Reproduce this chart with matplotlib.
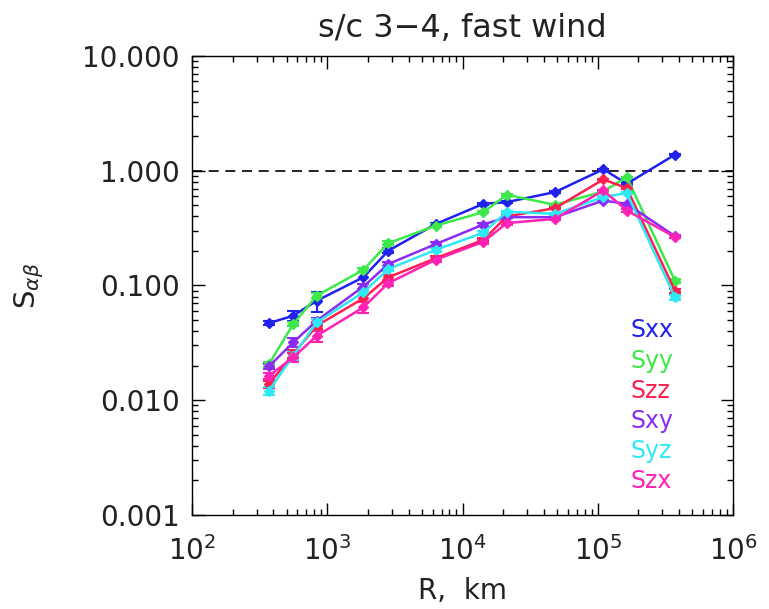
import numpy as np
import matplotlib.pyplot as plt
from matplotlib.ticker import LogLocator, FormatStrFormatter

# separation distances, km
R = [370, 560, 835, 1850, 2830, 6370, 14250, 21250, 48300, 110000, 164000, 372000]

names = ['Sxx', 'Syy', 'Szz', 'Sxy', 'Syz', 'Szx']
colors = ['#2121ee', '#3ce84a', '#ff1f4f', '#8a2cf5', '#2ee9f2', '#ff22b4']

Sxx = [0.047, 0.0545, 0.0736, 0.118, 0.201, 0.344, 0.515, 0.533, 0.652, 1.03, 0.77, 1.38]
Syy = [0.0206, 0.046, 0.0815, 0.137, 0.234, 0.333, 0.436, 0.617, 0.505, 0.66, 0.88, 0.110]
Szz = [0.0138, 0.0252, 0.0446, 0.0773, 0.118, 0.173, 0.25, 0.40, 0.472, 0.84, 0.706, 0.090]
Sxy = [0.0197, 0.0319, 0.0493, 0.098, 0.154, 0.23, 0.34, 0.394, 0.394, 0.55, 0.515, 0.269]
Syz = [0.0121, 0.0244, 0.0477, 0.0872, 0.139, 0.205, 0.288, 0.44, 0.421, 0.59, 0.64, 0.0788]
Szx = [0.0163, 0.0236, 0.0364, 0.0645, 0.105, 0.168, 0.24, 0.35, 0.381, 0.673, 0.45, 0.265]

# error bars (half width)
Exx = [0.002, 0.005, 0.015, 0.025, 0.01, 0.01, 0.01, 0.01, 0.01, 0.01, 0.01, 0.01]
Eyy = [0.001, 0.002, 0.004, 0.006, 0.008, 0.01, 0.01, 0.01, 0.01, 0.01, 0.01, 0.005]
Ezz = [0.001, 0.002, 0.003, 0.005, 0.006, 0.008, 0.01, 0.01, 0.01, 0.01, 0.01, 0.004]
Exy = [0.001, 0.003, 0.003, 0.005, 0.006, 0.008, 0.01, 0.01, 0.01, 0.01, 0.01, 0.008]
Eyz = [0.001, 0.002, 0.003, 0.005, 0.006, 0.008, 0.01, 0.01, 0.01, 0.01, 0.01, 0.004]
Ezx = [0.001, 0.002, 0.004, 0.007, 0.006, 0.008, 0.01, 0.01, 0.01, 0.01, 0.01, 0.008]

series = [Sxx, Syy, Szz, Sxy, Syz, Szx]
errors = [Exx, Eyy, Ezz, Exy, Eyz, Ezx]

plt.rcParams['font.family'] = 'DejaVu Sans'
fig = plt.figure(figsize=(7.69, 6.09), dpi=100)
ax = fig.add_axes([0.2497, 0.1544, 0.7035, 0.7536])

for s, e, c in zip(series, errors, colors):
    ax.errorbar(R, s, yerr=e, color=c, lw=1.8, marker='D', ms=5,
                capsize=4, elinewidth=1.5, capthick=1.5)

ax.axhline(1.0, color='k', ls=(0, (6, 4)), lw=1.2)

ax.set_xscale('log')
ax.set_yscale('log')
ax.set_xlim(1e2, 1e6)
ax.set_ylim(1e-3, 10)

ax.yaxis.set_major_formatter(FormatStrFormatter('%.3f'))
ax.yaxis.set_minor_locator(LogLocator(base=10, subs=np.arange(2, 10)))
ax.xaxis.set_minor_locator(LogLocator(base=10, subs=np.arange(2, 10)))
ax.yaxis.set_minor_formatter(plt.NullFormatter())
ax.xaxis.set_minor_formatter(plt.NullFormatter())
ax.tick_params(which='both', direction='in', top=True, right=True, labelsize=20,
               width=1, labelcolor='#222222')
ax.tick_params(which='major', length=9)
ax.tick_params(axis='y', which='major', pad=9)
ax.tick_params(axis='x', which='major', pad=15)
ax.tick_params(which='minor', length=4.5)
for sp in ax.spines.values():
    sp.set_linewidth(1)

ax.set_title('s/c 3\u22124, fast wind', fontsize=23, pad=14, color='#222222')
ax.set_xlabel('R,  km', fontsize=20, labelpad=8, color='#222222')
ax.set_ylabel(r'$\mathrm{S}_{\alpha\beta}$', fontsize=21, labelpad=26, color='#222222')

for i, (n, c) in enumerate(zip(names, colors)):
    ax.text(0.81, 0.402 - i * 0.0655, n, color=c, fontsize=17,
            transform=ax.transAxes, va='center', ha='left')

fig.savefig('out.png', dpi=100)
